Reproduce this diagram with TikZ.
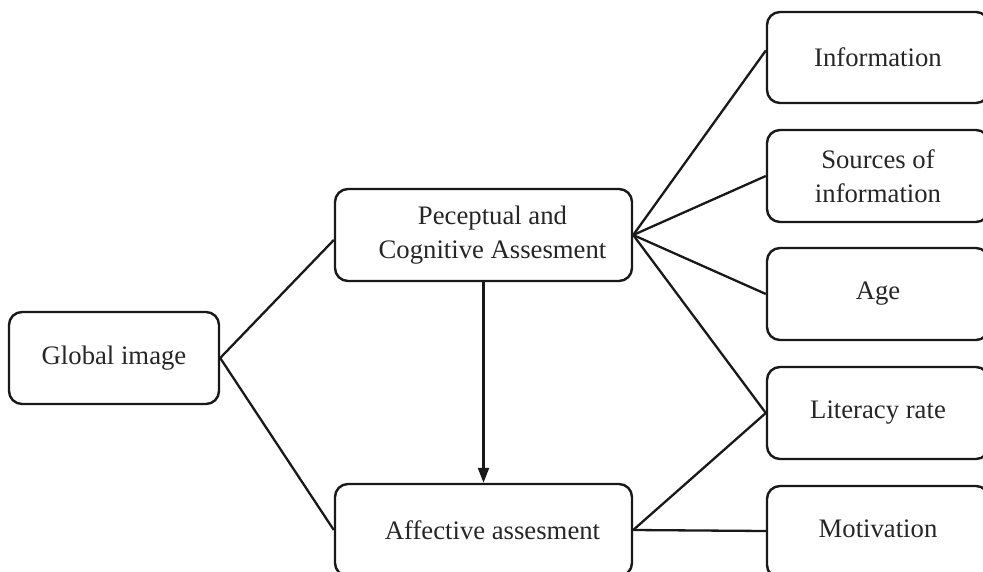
\documentclass[tikz,border=0pt]{standalone}
\usepackage{fontspec}
\setmainfont{Liberation Serif}
\usetikzlibrary{arrows.meta,calc}
\tikzset{
  box/.style={draw=black!90, line width=2.4pt, rounded corners=13pt, minimum height=92pt,
    align=center, inner sep=0pt, text=black!85,
    font=\fontsize{26.7}{34}\selectfont},
  conn/.style={draw=black!90, line width=2.3pt},
}
\begin{document}
\begin{tikzpicture}[x=1pt,y=-1pt]
\useasboundingbox (0,0) rectangle (983,571);
\clip (0,0) rectangle (983,571);
\node[box, minimum width=210pt] (global) at (114,358) {\raisebox{3pt}{Global image}};
\node[box, minimum width=297pt] (percept) at (483.5,235) {\hspace*{18pt}Peceptual and\\\hspace*{18pt}Cognitive Assesment};
\node[box, minimum width=297pt] (affect) at (483.5,530) {\hspace*{18pt}Affective assesment};
\node[box, minimum width=222pt, minimum height=91pt] (info) at (878,57.5) {Information};
\node[box, minimum width=222pt] (sources) at (878,176) {Sources of\\information};
\node[box, minimum width=222pt] (age) at (878,294) {\raisebox{4pt}{Age}};
\node[box, minimum width=222pt] (literacy) at (878,413) {\raisebox{3pt}{Literacy rate}};
\node[box, minimum width=222pt] (motiv) at (878,532) {\raisebox{6pt}{Motivation}};
\draw[conn] (global.east) -- ([yshift=-5pt]percept.west);
\draw[conn] (global.east) -- (affect.west);
\draw[conn] (percept.east) -- ([yshift=7pt]info.west);
\draw[conn] (percept.east) -- (sources.west);
\draw[conn] (percept.east) -- (age.west);
\draw[conn] (percept.east) -- (literacy.west);
\draw[conn] (affect.east) -- (literacy.west);
\draw[conn] (affect.east) -- ([yshift=1pt]motiv.west);
\draw[conn, -{Triangle[width=11pt,length=15pt]}] (percept.south) -- (affect.north);
\end{tikzpicture}
\end{document}
